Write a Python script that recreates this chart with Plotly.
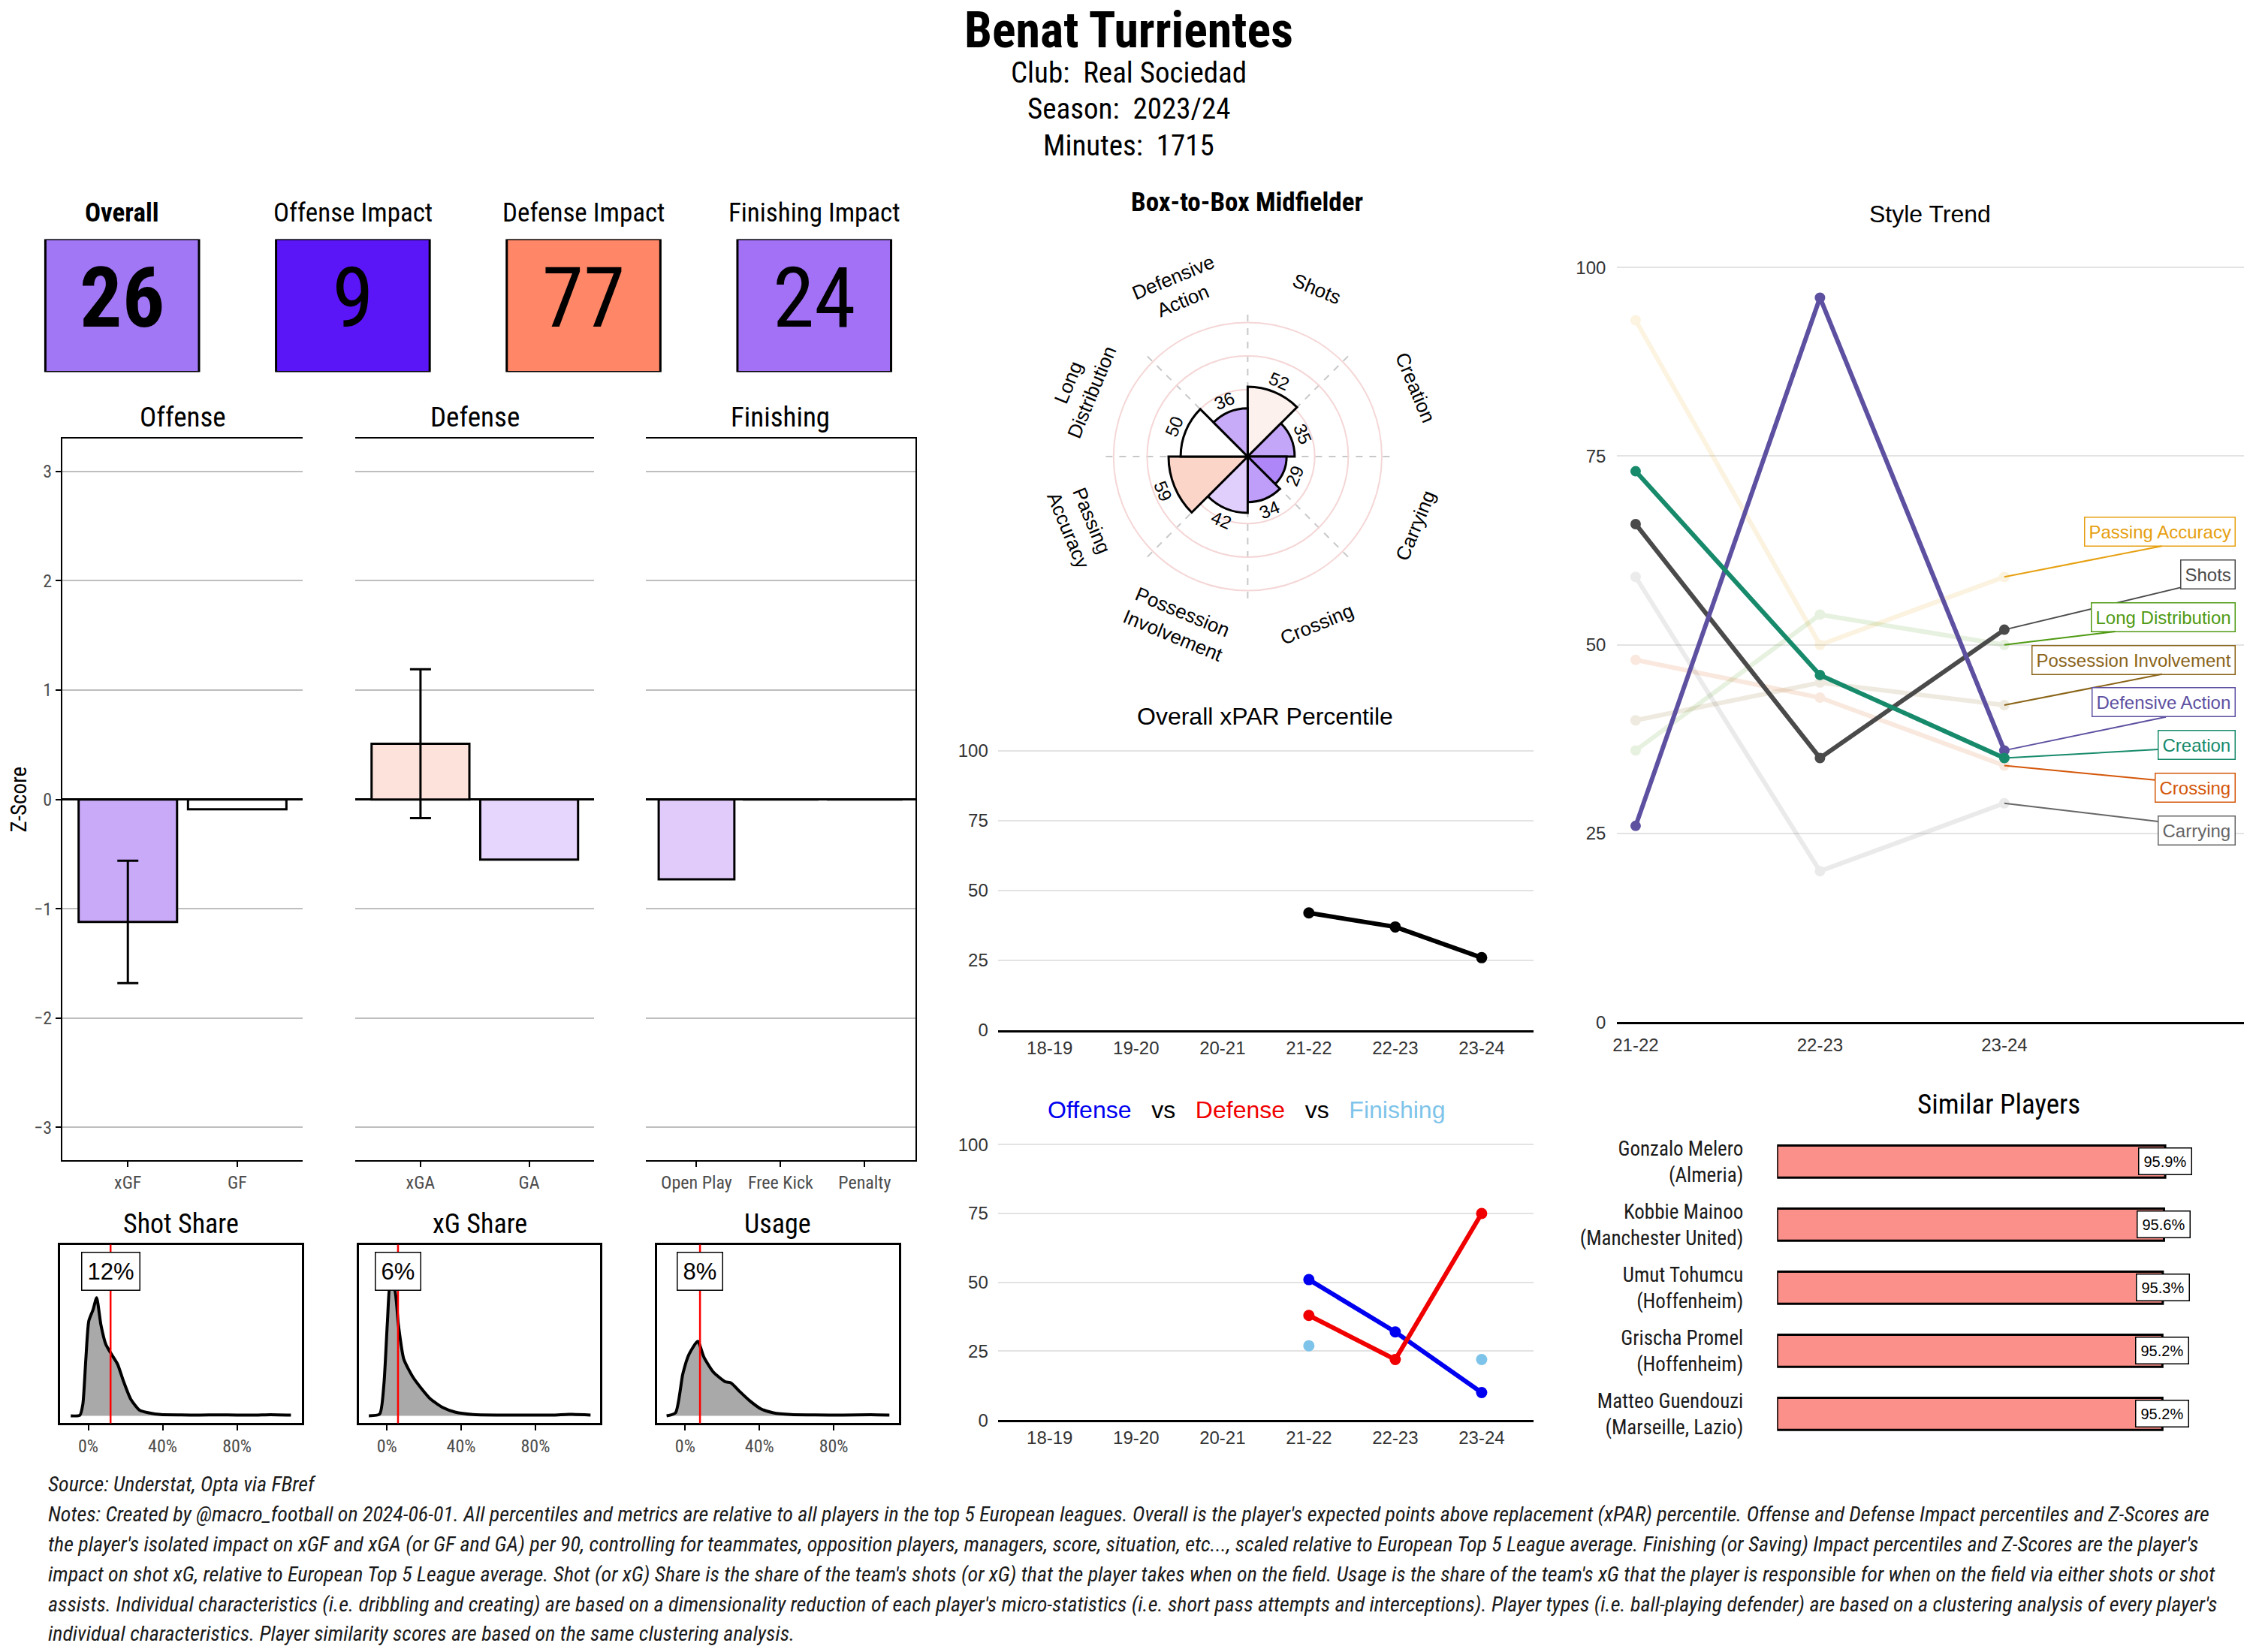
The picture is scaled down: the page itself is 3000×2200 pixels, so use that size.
import math
import plotly.graph_objects as go

W, H = 3000, 2200
OFF = 8  # default page body margin of the html page
FW, FH = W - 2 * OFF, H - 2 * OFF
def fx(p): return min(1.0, max(0.0, (p - OFF) / FW))
def fy(p): return min(1.0, max(0.0, 1 - (p * (1 + OFF / H) - OFF) / FH))

COND = "Roboto Condensed, Liberation Sans Narrow, DejaVu Sans Condensed, Arial Narrow, sans-serif"
SANS = "Liberation Sans, Arimo, Arial, Helvetica, sans-serif"

# ---------------- data ----------------
player_name = "Benat Turrientes"
club = "Real Sociedad"
season = "2023/24"
minutes = 1715

tile_labels = ["Overall", "Offense Impact", "Defense Impact", "Finishing Impact"]
tile_values = [26, 9, 77, 24]
tile_colors = ["#A277F6", "#5A16F6", "#FF8667", "#A271F6"]

off_cats = ["xGF", "GF"]
off_z = [-1.12, -0.09]
off_err = [0.56, None]
off_colors = ["#C9AAF9", "#FFFFFF"]
def_cats = ["xGA", "GA"]
def_z = [0.51, -0.55]
def_err = [0.68, None]
def_colors = ["#FDE1DB", "#E6D6FD"]
fin_cats = ["Open Play", "Free Kick", "Penalty"]
fin_z = [-0.73, 0.0, 0.0]
fin_colors = ["#E1CBFB", "#FFFFFF", "#FFFFFF"]

dens_titles = ["Shot Share", "xG Share", "Usage"]
shot_x = [-0.094, -0.045, -0.029, -0.013, 0.003, 0.026, 0.045, 0.068, 0.094, 0.126, 0.158, 0.19, 0.229, 0.277, 0.326, 0.39, 0.5, 0.6, 0.7, 0.8, 0.9, 0.98, 1.09]
shot_d = [0.0, 0.007, 0.157, 0.757, 1.27, 1.42, 1.58, 1.22, 0.96, 0.82, 0.69, 0.46, 0.22, 0.073, 0.04, 0.017, 0.012, 0.01, 0.012, 0.01, 0.01, 0.015, 0.01]
xg_x = [-0.097, -0.039, -0.016, 0.003, 0.019, 0.042, 0.062, 0.091, 0.14, 0.188, 0.237, 0.302, 0.367, 0.464, 0.6, 0.75, 0.9, 0.98, 1.097]
xg_d = [0.0, 0.023, 0.42, 1.26, 1.76, 1.69, 1.22, 0.76, 0.52, 0.36, 0.22, 0.11, 0.05, 0.017, 0.01, 0.01, 0.01, 0.02, 0.01]
use_x = [-0.10, -0.052, -0.013, 0.02, 0.068, 0.10, 0.15, 0.215, 0.247, 0.296, 0.345, 0.41, 0.475, 0.57, 0.7, 0.85, 1.0, 1.10]
use_d = [0.0, 0.04, 0.557, 0.82, 0.997, 0.79, 0.59, 0.457, 0.44, 0.32, 0.207, 0.09, 0.04, 0.017, 0.012, 0.01, 0.015, 0.01]
player_shares = [0.12, 0.06, 0.08]

radar_title = "Box-to-Box Midfielder"
radar_cats = ["Shots", "Creation", "Carrying", "Crossing", "Possession<br>Involvement",
              "Passing<br>Accuracy", "Long<br>Distribution", "Defensive<br>Action"]
radar_vals = [52, 35, 29, 34, 42, 59, 50, 36]
radar_colors = ["#FDF1EE", "#C4A6F8", "#AF86F7", "#BE9EF8", "#E0CEFC", "#FBD5C8", "#FFFFFF", "#C7AAF8"]

trend_seasons = ["21-22", "22-23", "23-24"]
passing_accuracy = [93, 50, 59]
shots = [66, 35, 52]
long_distribution = [36, 54, 50]
possession_involvement = [40, 45, 42]
defensive_action = [26, 96, 36]
creation = [73, 46, 35]
crossing = [48, 43, 34]
carrying = [59, 20, 29]
trend_names = ["Passing Accuracy", "Shots", "Long Distribution", "Possession Involvement",
               "Defensive Action", "Creation", "Crossing", "Carrying"]
trend_values = [passing_accuracy, shots, long_distribution, possession_involvement,
                defensive_action, creation, crossing, carrying]
trend_colors = ["#E6A010", "#4A4A4A", "#4F9A12", "#8A6418", "#5E50A1", "#178A6B", "#D4570A", "#666666"]
trend_highlight = ["Shots", "Defensive Action", "Creation"]

xpar_seasons = ["18-19", "19-20", "20-21", "21-22", "22-23", "23-24"]
xpar_overall = [None, None, None, 42, 37, 26]
xpar_offense = [None, None, None, 51, 32, 10]
xpar_defense = [None, None, None, 38, 22, 75]
xpar_finishing = [None, None, None, 27, None, 22]

similar_names = ["Gonzalo Melero", "Kobbie Mainoo", "Umut Tohumcu", "Grischa Promel", "Matteo Guendouzi"]
similar_clubs = ["Almeria", "Manchester United", "Hoffenheim", "Hoffenheim", "Marseille, Lazio"]
similar_scores = [95.9, 95.6, 95.3, 95.2, 95.2]

source_text = "Source: Understat, Opta via FBref"
notes_lines = [
    "Notes: Created by @macro_football on 2024-06-01. All percentiles and metrics are relative to all players in the top 5 European leagues. Overall is the player's expected points above replacement (xPAR) percentile. Offense and Defense Impact percentiles and Z-Scores are",
    "the player's isolated impact on xGF and xGA (or GF and GA) per 90, controlling for teammates, opposition players, managers, score, situation, etc..., scaled relative to European Top 5 League average. Finishing (or Saving) Impact percentiles and Z-Scores are the player's",
    "impact on shot xG, relative to European Top 5 League average. Shot (or xG) Share is the share of the team's shots (or xG) that the player takes when on the field. Usage is the share of the team's xG that the player is responsible for when on the field via either shots or shot",
    "assists. Individual characteristics (i.e. dribbling and creating) are based on a dimensionality reduction of each player's micro-statistics (i.e. short pass attempts and interceptions). Player types (i.e. ball-playing defender) are based on a clustering analysis of every player's",
    "individual characteristics. Player similarity scores are based on the same clustering analysis.",
]

fig = go.Figure()
ann = []
shapes = []
L = {}

def label(xp, yp, text, size, family=COND, color="black", angle=0, xanchor="center"):
    ann.append(dict(x=fx(xp), y=fy(yp), xref="paper", yref="paper", showarrow=False, text=text,
                    xanchor=xanchor, yanchor="middle", textangle=angle,
                    font=dict(family=family, size=size, color=color)))

# ---------------- tiles ----------------
tile_c0, tile_step = 157, 307.8
fig.add_trace(go.Scatter(
    x=list(range(len(tile_values))), y=[0.5] * len(tile_values),
    text=[("<b>%d</b>" % v) if i == 0 else str(v) for i, v in enumerate(tile_values)],
    mode="text", textfont=dict(family=COND, size=112, color="black"),
    xaxis="x", yaxis="y", showlegend=False, hoverinfo="skip"))
for i, (lab, col) in enumerate(zip(tile_labels, tile_colors)):
    shapes.append(dict(type="rect", xref="x", yref="y", x0=i - 0.333, x1=i + 0.333, y0=0, y1=1,
                       fillcolor=col, line=dict(color="black", width=3), layer="below"))
    label(tile_c0 + i * tile_step, 279, ("<b>%s</b>" % lab) if i == 0 else lab, 35)
L["xaxis"] = dict(domain=[fx(tile_c0 - 0.45 * tile_step), fx(tile_c0 + 3.45 * tile_step)], range=[-0.45, 3.45],
                  visible=False, fixedrange=True)
L["yaxis"] = dict(domain=[fy(492), fy(314)], range=[0, 1], visible=False)

# ---------------- z-score bars ----------------
panels = [
    ("Offense", off_cats, off_z, off_err, off_colors, 77, 398),
    ("Defense", def_cats, def_z, def_err, def_colors, 468, 787),
    ("Finishing", fin_cats, fin_z, [None] * 3, fin_colors, 856, 1215),
]
for k, (title, cats, z, err, cols, x0p, x1p) in enumerate(panels):
    ax = k + 2
    xs = list(range(len(cats)))
    fig.add_trace(go.Bar(x=xs, y=z, width=0.9, marker=dict(color=cols, line=dict(color="black", width=3)),
                         xaxis="x%d" % ax, yaxis="y%d" % ax, showlegend=False, hoverinfo="skip"))
    ex = [x for x, e in zip(xs, err) if e is not None]
    ey = [v for v, e in zip(z, err) if e is not None]
    ee = [e for e in err if e is not None]
    if ex:
        fig.add_trace(go.Scatter(x=ex, y=ey, mode="markers", marker=dict(size=1, opacity=0),
                                 error_y=dict(type="data", array=ee, color="black", thickness=3, width=14),
                                 xaxis="x%d" % ax, yaxis="y%d" % ax, showlegend=False, hoverinfo="skip"))
    L["xaxis%d" % ax] = dict(domain=[fx(x0p), fx(x1p)], range=[-0.6, len(cats) - 0.4], anchor="y%d" % ax,
                             tickvals=xs, ticktext=cats, ticks="outside", ticklen=7, tickwidth=2, tickcolor="black",
                             showline=True, linecolor="black", linewidth=2, mirror=True, showgrid=False, zeroline=False,
                             tickfont=dict(family=COND, size=24, color="#4D4D4D"))
    ya = dict(domain=[fy(1547), fy(581)], range=[-3.3, 3.3], anchor="x%d" % ax,
              tickvals=[-3, -2, -1, 0, 1, 2, 3], showgrid=True, gridcolor="#BEBEBE", gridwidth=1.5,
              zeroline=True, zerolinecolor="black", zerolinewidth=2.5,
              tickfont=dict(family=COND, size=24, color="#4D4D4D"))
    if k == 0:
        ya.update(ticks="outside", ticklen=7, tickwidth=2, tickcolor="black", showline=True, linecolor="black",
                  linewidth=2, title=dict(text="Z-Score", font=dict(family=COND, size=29, color="black"), standoff=10))
    elif k == 1:
        ya.update(showticklabels=False, ticks="", showline=False)
    else:
        ya.update(showticklabels=False, ticks="", showline=True, linecolor="black", linewidth=2, side="right")
    L["yaxis%d" % ax] = ya
    label((x0p + x1p) / 2, 552, title, 37)

# ---------------- densities ----------------
dens = [(shot_x, shot_d, 74.5, 397), (xg_x, xg_d, 473, 795), (use_x, use_d, 871, 1193)]
for k, ((dx, dd, x0p, x1p), title, share) in enumerate(zip(dens, dens_titles, player_shares)):
    ax = k + 5
    fig.add_trace(go.Scatter(x=dx, y=dd, mode="lines", fill="tozeroy", fillcolor="#A9A9A9",
                             line=dict(color="black", width=4, shape="spline", smoothing=0.6),
                             xaxis="x%d" % ax, yaxis="y%d" % ax, showlegend=False, hoverinfo="skip"))
    L["xaxis%d" % ax] = dict(domain=[fx(x0p), fx(x1p)], range=[-0.15, 1.15], anchor="y%d" % ax,
                             tickvals=[0, 0.4, 0.8], ticktext=["0%", "40%", "80%"], ticks="outside", ticklen=7,
                             tickwidth=2, tickcolor="black", showline=True, linecolor="black", linewidth=3,
                             mirror=True, showgrid=False, zeroline=False,
                             tickfont=dict(family=COND, size=24, color="#4D4D4D"))
    L["yaxis%d" % ax] = dict(domain=[fy(1899), fy(1660)], range=[-0.10, 2.29], anchor="x%d" % ax,
                             showticklabels=False, ticks="", showgrid=False, zeroline=False,
                             showline=True, linecolor="black", linewidth=3, mirror=True)
    shapes.append(dict(type="line", xref="x%d" % ax, yref="y%d domain" % ax, x0=share, x1=share, y0=0, y1=1,
                       line=dict(color="red", width=2.5)))
    ann.append(dict(x=share, xref="x%d" % ax, y=fy(1696), yref="paper", showarrow=False,
                    xanchor="center", yanchor="middle",
                    text="%d%%" % round(share * 100), bgcolor="white", bordercolor="black", borderwidth=1.5,
                    borderpad=7, font=dict(family=SANS, size=31, color="black")))
    label((x0p + x1p) / 2, 1632, title, 36)

# ---------------- radar ----------------
cxp, cyp, r100 = 1658.7, 605, 179.5
rmax = 110
half = r100 * rmax / 100
thetas = [22.5 + 45 * i for i in range(len(radar_vals))]
fig.add_trace(go.Barpolar(r=radar_vals, theta=thetas, width=[45] * len(radar_vals),
                          marker=dict(color=radar_colors, line=dict(color="black", width=3)),
                          subplot="polar", showlegend=False, hoverinfo="skip"))
L["polar"] = dict(domain=dict(x=[fx(cxp - half), fx(cxp + half)], y=[fy(cyp + half), fy(cyp - half)]),
                  bgcolor="white",
                  radialaxis=dict(range=[0, rmax], tickvals=[25, 50, 75, 100], showticklabels=False, ticks="",
                                  gridcolor="#F5D6D6", gridwidth=2, showline=False),
                  angularaxis=dict(direction="clockwise", rotation=90, tickvals=[45 * i for i in range(8)],
                                   showticklabels=False, ticks="", gridcolor="#C8C8C8", griddash="dash",
                                   gridwidth=2, showline=False))

def tang(t):
    if t <= 90:
        return t
    if t < 270:
        return t - 180
    return t - 360

for t, lab, v in zip(thetas, radar_cats, radar_vals):
    for rr, txt, sz in ((135, lab, 26), (v + 9, str(v), 24)):
        rp = rr * r100 / 100
        px = cxp + rp * math.sin(math.radians(t))
        py = cyp - rp * math.cos(math.radians(t))
        label(px, py, txt, sz, family=SANS, angle=tang(t))
label(1658, 265, "<b>%s</b>" % radar_title, 35)

# ---------------- style trend ----------------
tx = list(range(len(trend_seasons)))
order = list(range(len(trend_names)))
for i in order:
    if trend_names[i] in trend_highlight:
        continue
    fig.add_trace(go.Scatter(x=tx, y=trend_values[i], mode="lines+markers", opacity=0.13,
                             line=dict(color=trend_colors[i], width=6), marker=dict(size=14, color=trend_colors[i]),
                             xaxis="x8", yaxis="y8", showlegend=False, hoverinfo="skip"))
for i in order:
    if trend_names[i] not in trend_highlight:
        continue
    fig.add_trace(go.Scatter(x=tx, y=trend_values[i], mode="lines+markers",
                             line=dict(color=trend_colors[i], width=6), marker=dict(size=14, color=trend_colors[i]),
                             xaxis="x8", yaxis="y8", showlegend=False, hoverinfo="skip"))
ranked = sorted(order, key=lambda i: -trend_values[i][-1])
for j, i in enumerate(ranked):
    ann.append(dict(x=tx[-1], y=trend_values[i][-1], xref="x8", yref="y8", ax=3.255, ay=65 - 5.66 * j,
                    axref="x8", ayref="y8", xanchor="right", showarrow=True, arrowhead=0, arrowwidth=2,
                    arrowcolor=trend_colors[i], standoff=0, text=trend_names[i], bgcolor="white",
                    bordercolor=trend_colors[i], borderwidth=1.5, borderpad=5,
                    font=dict(family=SANS, size=24, color=trend_colors[i])))
L["xaxis8"] = dict(domain=[fx(2151.7), fx(2988)], range=[-0.1, 3.3], anchor="y8", tickvals=tx,
                   ticktext=trend_seasons, showgrid=False, zeroline=False, showline=True, linecolor="black",
                   linewidth=3, ticks="", ticklabelstandoff=7, tickfont=dict(family=SANS, size=24, color="#333333"))
L["yaxis8"] = dict(domain=[fy(1362), fy(331.8)], range=[0, 102], anchor="x8", tickvals=[0, 25, 50, 75, 100],
                   gridcolor="#E3E3E3", gridwidth=1.5, zeroline=False, showline=False, ticks="",
                   ticklabelstandoff=14, tickfont=dict(family=SANS, size=24, color="#333333"))
label(2569.5, 280, "Style Trend", 32, family=SANS)

# ---------------- xPAR ----------------
xx = list(range(len(xpar_seasons)))
fig.add_trace(go.Scatter(x=xx, y=xpar_overall, mode="lines+markers", line=dict(color="black", width=6),
                         marker=dict(size=15, color="black"), xaxis="x9", yaxis="y9", showlegend=False,
                         hoverinfo="skip"))
for series, col, mode in ((xpar_offense, "#0000F0", "lines+markers"), (xpar_defense, "#F00000", "lines+markers"),
                          (xpar_finishing, "#7EC4EA", "markers")):
    fig.add_trace(go.Scatter(x=xx, y=series, mode=mode, line=dict(color=col, width=6),
                             marker=dict(size=15, color=col), xaxis="x10", yaxis="y10", showlegend=False,
                             hoverinfo="skip"))
for ax, dom in ((9, [fy(1373), fy(991.5)]), (10, [fy(1894.8), fy(1518.6)])):
    L["xaxis%d" % ax] = dict(domain=[fx(1325.4), fx(2040)], range=[-0.6, 5.6], anchor="y%d" % ax, tickvals=xx,
                             ticktext=xpar_seasons, showgrid=False, zeroline=False, showline=True,
                             linecolor="black", linewidth=3, ticks="",
                             tickfont=dict(family=SANS, size=24, color="#333333"))
    L["yaxis%d" % ax] = dict(domain=dom, range=[0, 102], anchor="x%d" % ax, tickvals=[0, 25, 50, 75, 100],
                             gridcolor="#E3E3E3", gridwidth=1.5, zeroline=False, showline=False, ticks="",
                             ticklabelstandoff=12, tickfont=dict(family=SANS, size=24, color="#333333"))
label(1682, 952.5, "Overall xPAR Percentile", 32, family=SANS)
sp = "\u00a0" * 3
label(1656.7, 1479, ("<span style='color:#0000F0'>Offense</span>" + sp + "vs" + sp +
                     "<span style='color:#F00000'>Defense</span>" + sp + "vs" + sp +
                     "<span style='color:#7EC4EA'>Finishing</span>"), 32, family=SANS)

# ---------------- similar players ----------------
sy = list(range(len(similar_names)))
fig.add_trace(go.Bar(x=similar_scores, y=sy, orientation="h", width=0.51,
                     marker=dict(color="#FB8F89", line=dict(color="black", width=3)),
                     xaxis="x11", yaxis="y11", showlegend=False, hoverinfo="skip"))
for s, yv in zip(similar_scores, sy):
    ann.append(dict(x=s, y=yv, xref="x11", yref="y11", showarrow=False, text="%.1f%%" % s, bgcolor="white",
                    xanchor="center", yanchor="middle",
                    bordercolor="black", borderwidth=1.5, borderpad=6,
                    font=dict(family=SANS, size=20, color="black")))
L["xaxis11"] = dict(domain=[fx(2365), fx(2905)], range=[0, 100], anchor="y11", visible=False)
L["yaxis11"] = dict(domain=[fy(1937), fy(1498)], range=[4.6, -0.6], anchor="x11", tickvals=sy,
                    ticktext=["%s<br>(%s)" % (n, c) for n, c in zip(similar_names, similar_clubs)],
                    showgrid=False, zeroline=False, showline=False, ticks="", ticklabelstandoff=44,
                    tickfont=dict(family=COND, size=27, color="#1A1A1A"))
label(2661, 1472, "Similar Players", 37)

# ---------------- header & notes ----------------
label(1500, 35, "<b>%s</b>" % player_name, 66)
for txt, ypx in (("Club:\u00a0\u00a0%s" % club, 91), ("Season:\u00a0\u00a0%s" % season, 140),
                 ("Minutes:\u00a0\u00a0%d" % minutes, 189)):
    label(1500, ypx, txt, 39)
for txt, ypx in zip([source_text] + notes_lines, [1981, 2021, 2061, 2101, 2141, 2181]):
    label(56, ypx, "<i>%s</i>" % txt, 28, color="#1A1A1A", xanchor="left")

fig.update_layout(width=FW, height=FH, margin=dict(l=0, r=0, t=0, b=0), paper_bgcolor="white",
                  plot_bgcolor="rgba(0,0,0,0)", annotations=ann, shapes=shapes, showlegend=False, **L)
fig.write_html("out.html")
